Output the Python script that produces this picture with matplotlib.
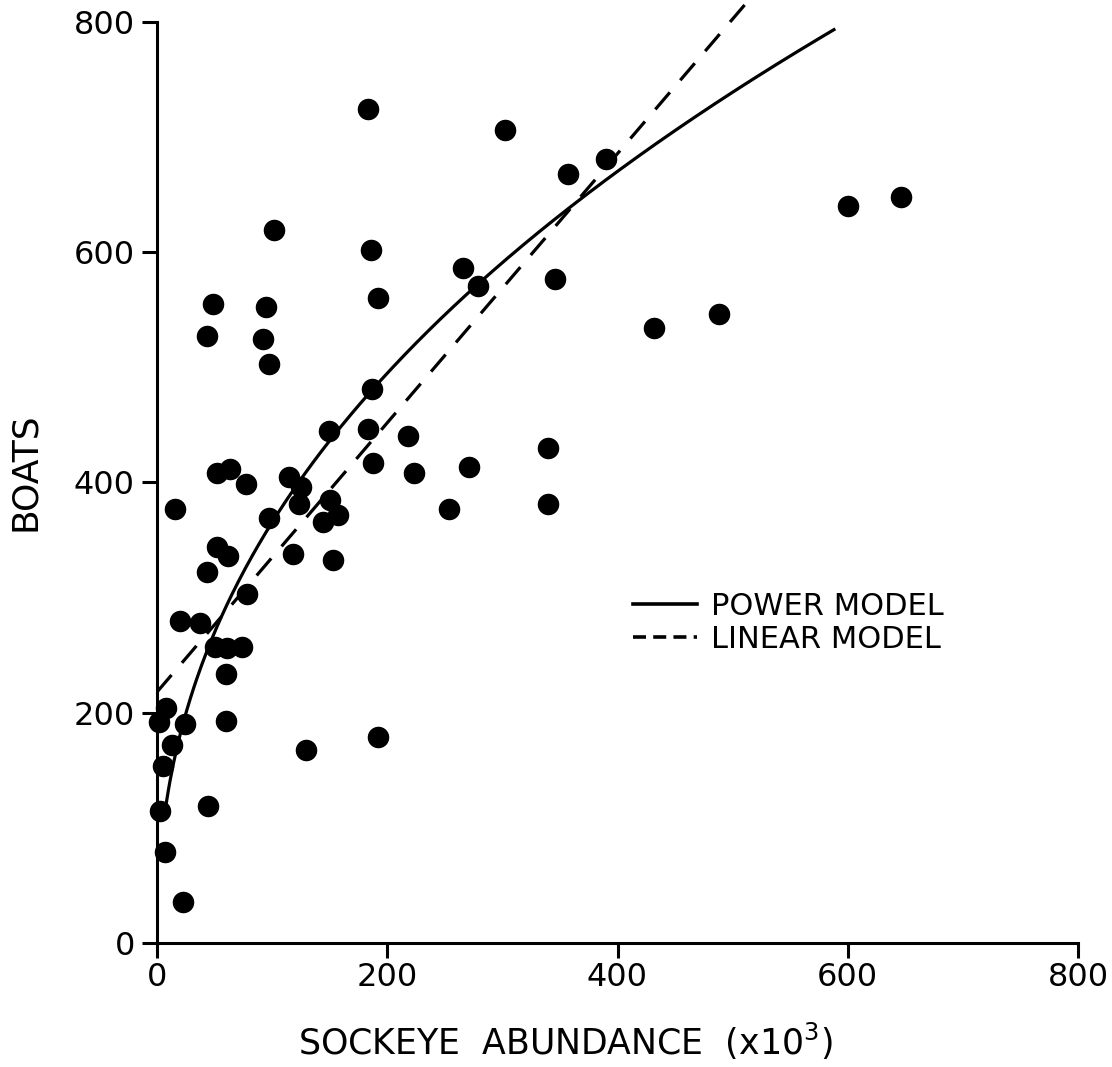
import numpy as np
import matplotlib
matplotlib.use("Agg")
import matplotlib.pyplot as plt
from matplotlib.lines import Line2D

# Observed data: sockeye abundance (x10^3) vs number of boats
abundance = [183, 302, 102, 186, 266, 279, 192, 49, 95, 43, 92, 97, 187, 149, 183,
             218, 188, 223, 271, 52, 63, 77, 115, 125, 123, 16, 97, 150, 157, 144,
             254, 118, 153, 52, 62, 43, 78, 20, 37, 50, 61, 74, 60, 60, 8, 2, 24,
             13, 5, 3, 7, 23, 44, 129, 192, 346, 432, 488, 600, 646, 357, 390, 340, 340]
boats = [724, 706, 619, 602, 586, 571, 560, 555, 552, 527, 525, 503, 481, 445, 446,
         440, 417, 408, 413, 408, 412, 399, 405, 396, 381, 377, 369, 385, 372, 366,
         377, 338, 333, 344, 336, 322, 303, 280, 278, 257, 256, 257, 234, 193, 204, 192, 190,
         172, 154, 115, 79, 36, 119, 168, 179, 577, 534, 546, 640, 648, 668, 681, 430, 381]

# Fitted model parameters
power_a, power_b = 48.7, 0.4376          # boats = a * abundance^b
power_range = (7, 588)
linear_intercept, linear_slope = 218, 1.169   # boats = c + m * abundance
linear_range = (0, 540)

xticks = [0, 200, 400, 600, 800]
yticks = [0, 200, 400, 600, 800]
legend_labels = ["POWER MODEL", "LINEAR MODEL"]

fig = plt.figure(figsize=(11.12, 10.67), dpi=100)
ax = fig.add_axes([157/1112, 124/1067, 921/1112, 943/1067])

ax.scatter(abundance, boats, s=210, color="black", zorder=3, clip_on=False)

xp = np.linspace(*power_range, 400)
ax.plot(xp, power_a * xp ** power_b, color="black", lw=2.3)
xl = np.array(linear_range)
ax.plot(xl, linear_intercept + linear_slope * xl, color="black", lw=2.3,
        dashes=(7.0, 5.0))

ax.set_xlim(0, 800)
ax.set_ylim(0, 819)
for s in ["top", "right"]:
    ax.spines[s].set_visible(False)
ax.spines["left"].set_bounds(0, 800)
ax.spines["bottom"].set_bounds(0, 800)
for s in ["left", "bottom"]:
    ax.spines[s].set_linewidth(2.2)

ax.set_xticks(xticks)
ax.set_yticks(yticks)
ax.set_xticklabels([str(v) for v in xticks])
ax.set_yticklabels([str(v) for v in yticks])
ax.tick_params(axis="both", direction="out", length=11, width=2.2, labelsize=23)
ax.tick_params(axis="y", pad=5)
ax.tick_params(axis="x", pad=3)

ax.set_xlabel("SOCKEYE  ABUNDANCE  (x10$^{3}$)", fontsize=25)
ax.xaxis.set_label_coords(0.443, -0.082)
ax.set_ylabel("BOATS", fontsize=26)
ax.yaxis.set_label_coords(-0.125, 0.5)

handles = [Line2D([], [], color="black", lw=2.6),
           Line2D([], [], color="black", lw=2.6, dashes=(3.6, 2.0))]
leg = ax.legend(handles, legend_labels, loc="upper left",
                bbox_to_anchor=(633/1112, 1 - 592/1067),
                bbox_transform=fig.transFigure, frameon=False, fontsize=22,
                handlelength=2.1, handletextpad=0.45, labelspacing=0.12,
                borderpad=0, borderaxespad=0)

fig.savefig("out.png", dpi=100, facecolor="white")
